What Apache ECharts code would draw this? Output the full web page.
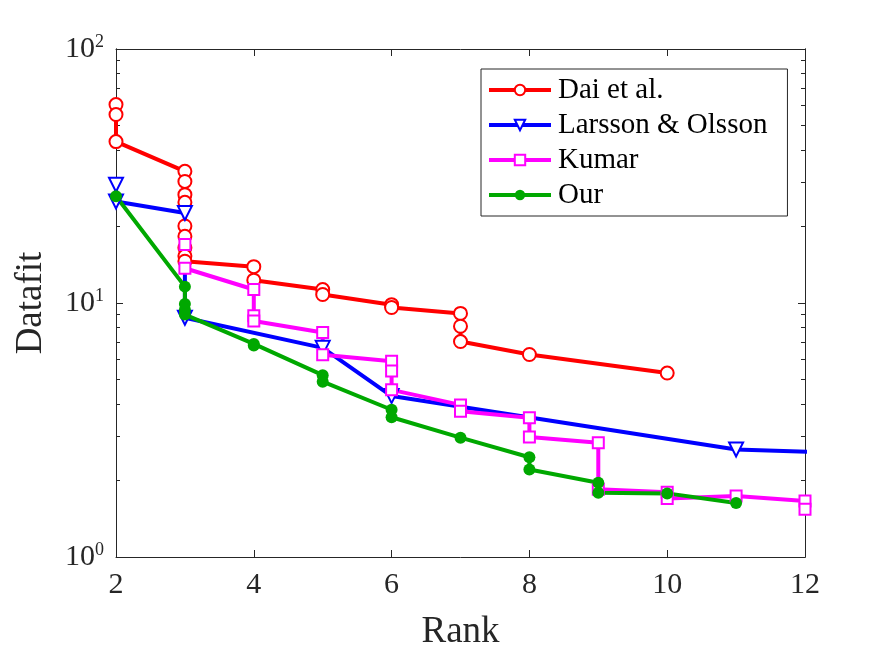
<!DOCTYPE html>
<html>
<head>
<meta charset="utf-8">
<script src="https://cdn.jsdelivr.net/npm/echarts@6/dist/echarts.min.js"></script>
<style>
  html, body { margin: 0; padding: 0; background: #fff; }
  #main { width: 891px; height: 656px; }
</style>
</head>
<body>
<div id="main"></div>
<script>
// Datafit against rank, log y axis

const seriesNames = ['Dai et al.', 'Larsson & Olsson', 'Kumar', 'Our'];

const daiRank = [2, 2, 2, 3, 3, 3, 3, 3, 3, 3, 3, 3, 4, 4, 5, 5, 6, 6, 7, 7, 7, 8, 10];
const daiFit = [60.4, 55.2, 43.2, 33.0, 30.1, 26.7, 24.9, 20.1, 18.3, 16.5, 15.3, 14.6, 13.9, 12.3, 11.3, 10.8, 9.85, 9.6, 9.1, 8.1, 7.05, 6.27, 5.3];

const larssonRank = [2, 2, 3, 3, 5, 6, 11, 13];
const larssonFit = [29.2, 25.1, 22.6, 8.75, 6.66, 4.3, 2.65, 2.55];

const kumarRank = [3, 3, 4, 4, 4, 5, 5, 6, 6, 6, 7, 7, 8, 8, 9, 9, 10, 10, 11, 12, 12];
const kumarFit = [17.0, 13.7, 11.3, 8.9, 8.5, 7.65, 6.25, 5.9, 5.4, 4.55, 3.97, 3.75, 3.53, 2.97, 2.82, 1.85, 1.80, 1.70, 1.74, 1.66, 1.54];

const ourRank = [2, 3, 3, 3, 3, 4, 4, 5, 5, 6, 6, 7, 8, 8, 9, 9, 10, 11];
const ourFit = [26.3, 11.6, 9.9, 9.4, 9.0, 6.9, 6.8, 5.2, 4.9, 3.8, 3.55, 2.95, 2.47, 2.21, 1.96, 1.79, 1.78, 1.63];

const xTicks = [2, 4, 6, 8, 10, 12];
const yMajor = [1, 10, 100];
const yMinor = [2, 3, 4, 5, 6, 7, 8, 9, 20, 30, 40, 50, 60, 70, 80, 90];

function pairs(xs, ys) {
    return xs.map((x, i) => [x, ys[i]]);
}

const axisColor = '#262626';
const font = '"Liberation Serif", "Times New Roman", serif';

let myChart = echarts.init(document.getElementById('main'));

function yAxisBox(pos, ticks, len, showLabel) {
    return {
        type: 'log',
        logBase: 10,
        min: 1,
        max: 100,
        position: pos,
        axisLine: { show: true, lineStyle: { color: axisColor, width: 1 } },
        axisTick: { show: true, inside: true, length: len, customValues: ticks, lineStyle: { color: axisColor } },
        axisLabel: showLabel ? {
            show: true,
            customValues: yMajor,
            margin: 12,
            color: axisColor,
            fontFamily: font,
            formatter: function (v) {
                let e = Math.round(Math.log10(v));
                return '{b|10}{s|' + e + '}';
            },
            rich: {
                b: { fontSize: 30, fontFamily: font, color: axisColor, lineHeight: 32 },
                s: { fontSize: 18, fontFamily: font, color: axisColor, verticalAlign: 'top', lineHeight: 18 }
            }
        } : { show: false },
        splitLine: { show: false },
        minorTick: { show: false },
        name: showLabel ? 'Datafit' : '',
        nameLocation: 'middle',
        nameGap: 66,
        nameTextStyle: { fontSize: 37, fontFamily: font, color: axisColor }
    };
}

function xAxisBox(pos, showLabel) {
    return {
        type: 'value',
        min: xTicks[0],
        max: xTicks[xTicks.length - 1],
        interval: 2,
        position: pos,
        axisLine: { show: true, onZero: false, lineStyle: { color: axisColor, width: 1 } },
        axisTick: { show: true, inside: true, length: 7, lineStyle: { color: axisColor } },
        axisLabel: { show: showLabel, margin: 13, fontSize: 30, fontFamily: font, color: axisColor },
        splitLine: { show: false },
        name: showLabel ? 'Rank' : '',
        nameLocation: 'middle',
        nameGap: 57,
        nameTextStyle: { fontSize: 37, fontFamily: font, color: axisColor }
    };
}

let option = {
    backgroundColor: '#fff',
    animation: false,
    grid: { left: 116, right: 86, top: 49, bottom: 98, containLabel: false },
    legend: {
        orient: 'vertical',
        left: 481,
        top: 69,
        padding: [6, 20, 6, 6],
        itemGap: 5,
        itemWidth: 62,
        itemHeight: 13,
        backgroundColor: '#fff',
        borderColor: axisColor,
        borderWidth: 1,
        borderRadius: 0,
        lineStyle: { width: 4 },
        textStyle: { fontSize: 29, fontFamily: font, color: '#000', lineHeight: 30, padding: [0, 0, 0, 2] },
        data: seriesNames
    },
    xAxis: [xAxisBox('bottom', true), xAxisBox('top', false)],
    yAxis: [
        yAxisBox('left', yMajor, 7, true),
        yAxisBox('left', yMinor, 4, false),
        yAxisBox('right', yMajor, 7, false),
        yAxisBox('right', yMinor, 4, false)
    ],
    series: [
        {
            name: seriesNames[0],
            type: 'line',
            data: pairs(daiRank, daiFit),
            symbol: 'emptyCircle',
            symbolSize: 13,
            lineStyle: { color: '#ff0000', width: 4 },
            itemStyle: { color: '#ff0000', borderWidth: 3 }
        },
        {
            name: seriesNames[1],
            type: 'line',
            data: pairs(larssonRank, larssonFit),
            symbol: 'emptyTriangle',
            symbolRotate: 180,
            symbolSize: 14,
            lineStyle: { color: '#0000ff', width: 4 },
            itemStyle: { color: '#0000ff', borderWidth: 3.5 }
        },
        {
            name: seriesNames[2],
            type: 'line',
            data: pairs(kumarRank, kumarFit),
            symbol: 'emptyRect',
            symbolSize: 11,
            lineStyle: { color: '#ff00ff', width: 4 },
            itemStyle: { color: '#ff00ff', borderWidth: 3 }
        },
        {
            name: seriesNames[3],
            type: 'line',
            data: pairs(ourRank, ourFit),
            symbol: 'circle',
            symbolSize: 12,
            lineStyle: { color: '#00a800', width: 4 },
            itemStyle: { color: '#00a800' }
        }
    ]
};

myChart.setOption(option);
</script>
</body>
</html>
